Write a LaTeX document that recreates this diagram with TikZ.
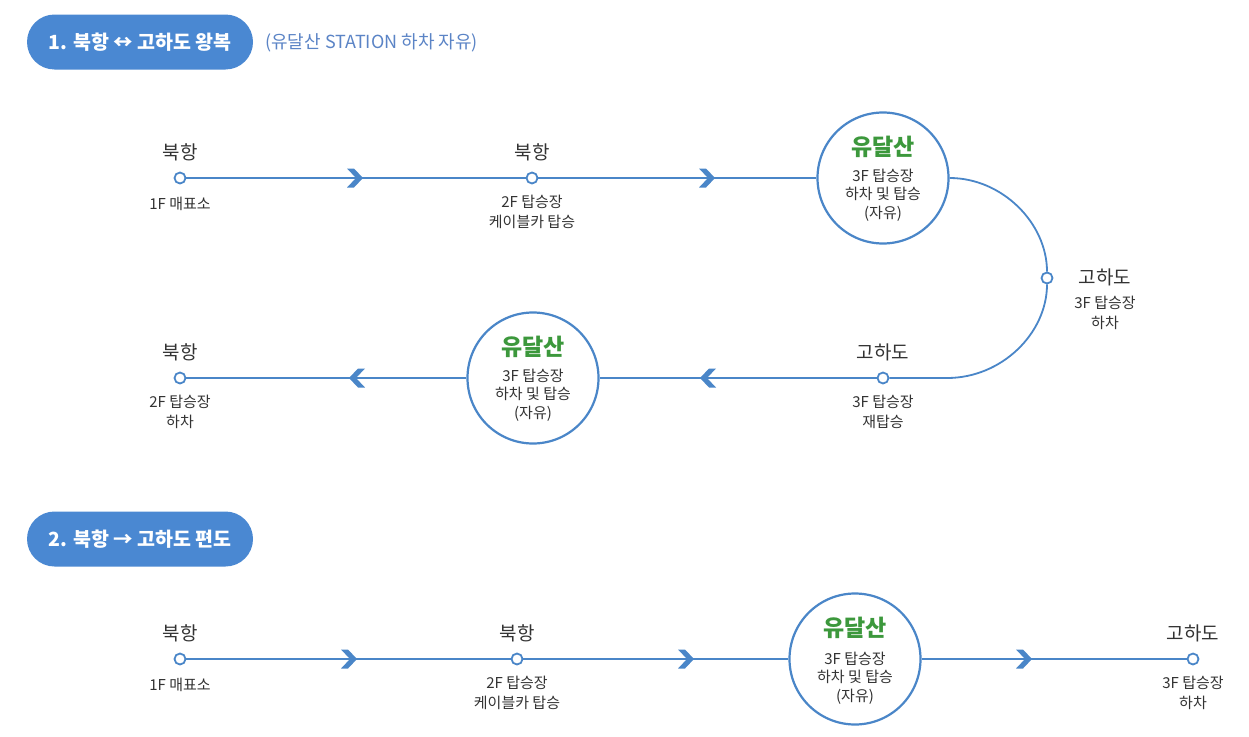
\documentclass[tikz,border=0pt]{standalone}
\usepackage{fontspec}
\setmainfont{Noto Sans CJK KR}
\definecolor{lineblue}{HTML}{4A86C8}
\definecolor{pillblue}{HTML}{4A88D2}
\definecolor{dalgreen}{HTML}{3C983C}
\definecolor{txt}{HTML}{333333}
\definecolor{subblue}{HTML}{5B84C6}
\tikzset{
  stop/.style={circle, draw=lineblue, fill=white, line width=1.8pt, minimum size=11pt, inner sep=0pt},
  bigstop/.style={circle, draw=lineblue, fill=white, line width=2.2pt, minimum size=131pt, inner sep=0pt},
  stname/.style={font=\fontsize{19}{22}\selectfont, text=txt, inner sep=0pt},
  stsub/.style={font=\fontsize{15}{20}\selectfont, text=txt, align=center, inner sep=0pt},
  bigname/.style={font=\bfseries\fontsize{23}{26}\selectfont, text=dalgreen, inner sep=0pt},
  bigsub/.style={font=\fontsize{15}{18.5}\selectfont, text=txt, align=center, inner sep=0pt},
  route/.style={draw=lineblue, line width=1.8pt},
  pill/.style={fill=pillblue, text=white, minimum width=226pt, minimum height=55pt, rounded corners=27.5pt, inner sep=0pt, font=\bfseries\fontsize{19.5}{22}\selectfont},
  note/.style={text=subblue, font=\fontsize{18}{21}\selectfont, inner sep=0pt, anchor=west},
  chevr/.pic={\fill[lineblue] (-16,-9.5) -- (-9,-9.5) -- (0,0) -- (-9,9.5) -- (-16,9.5) -- (-7,0) -- cycle;}
}
\begin{document}
\begin{tikzpicture}[x=1pt,y=-1pt]
\useasboundingbox (0,0) rectangle (1249,736);
\fill[white] (0,0) rectangle (1249,736);

% headers
\node[pill] (h1) at (140,42) {1. 북항 ↔ 고하도 왕복};
\node[note] (h1n) at (265,43) {(유달산 STATION 하차 자유)};
\node[pill] (h2) at (140,539) {2. 북항 → 고하도 편도};

% ---------- row 1
\node[stop] (a1) at (180,178) {};
\node[stname] (a1t) at (180,152) {북항};
\node[stsub] (a1s) at (180,204) {1F 매표소};

\node[stop] (a2) at (532,178) {};
\node[stname] (a2t) at (532,152) {북항};
\node[stsub] (a2s) at (532,212) {2F 탑승장\\케이블카 탑승};

\node[bigstop] (a3) at (883,178) {};
\node[bigname] (a3t) at (883,147) {유달산};
\node[bigsub] (a3s) at (883,195) {3F 탑승장\\하차 및 탑승\\(자유)};

\node[stop] (g1) at (1047,278) {};
\node[stname] (g1t) at (1105,277) {고하도};
\node[stsub] (g1s) at (1105,313) {3F 탑승장\\하차};

\draw[route] (a1) -- (a2);
\draw[route] (a2) -- (a3);
\pic at (363,178) {chevr};
\pic at (715,178) {chevr};

% ---------- row 2
\node[stop] (b1) at (883,378) {};
\node[stname] (b1t) at (883,352) {고하도};
\node[stsub] (b1s) at (883,412) {3F 탑승장\\재탑승};

\node[bigstop] (b2) at (533,378) {};
\node[bigname] (b2t) at (533,347) {유달산};
\node[bigsub] (b2s) at (533,395) {3F 탑승장\\하차 및 탑승\\(자유)};

\node[stop] (b3) at (180,378) {};
\node[stname] (b3t) at (180,352) {북항};
\node[stsub] (b3s) at (180,412) {2F 탑승장\\하차};

\coordinate (arcBot) at (947,378);
\draw[route] (a3.east) .. controls (1002,178) and (1047,223) .. (g1);
\draw[route] (g1) .. controls (1047,333) and (1002,378) .. (arcBot) -- (b1);
\draw[route] (b1) -- (b2);
\draw[route] (b2) -- (b3);
\pic[rotate=180] at (700,378) {chevr};
\pic[rotate=180] at (349,378) {chevr};

% ---------- row 3
\node[stop] (c1) at (180,659) {};
\node[stname] (c1t) at (180,633) {북항};
\node[stsub] (c1s) at (180,685) {1F 매표소};

\node[stop] (c2) at (517,659) {};
\node[stname] (c2t) at (517,633) {북항};
\node[stsub] (c2s) at (517,693) {2F 탑승장\\케이블카 탑승};

\node[bigstop] (c3) at (855,659) {};
\node[bigname] (c3t) at (855,628) {유달산};
\node[bigsub] (c3s) at (855,678) {3F 탑승장\\하차 및 탑승\\(자유)};

\node[stop] (c4) at (1193,659) {};
\node[stname] (c4t) at (1193,633) {고하도};
\node[stsub] (c4s) at (1193,693) {3F 탑승장\\하차};

\draw[route] (c1) -- (c2);
\draw[route] (c2) -- (c3);
\draw[route] (c3) -- (c4);
\pic at (357,659) {chevr};
\pic at (694,659) {chevr};
\pic at (1032,659) {chevr};
\end{tikzpicture}
\end{document}
